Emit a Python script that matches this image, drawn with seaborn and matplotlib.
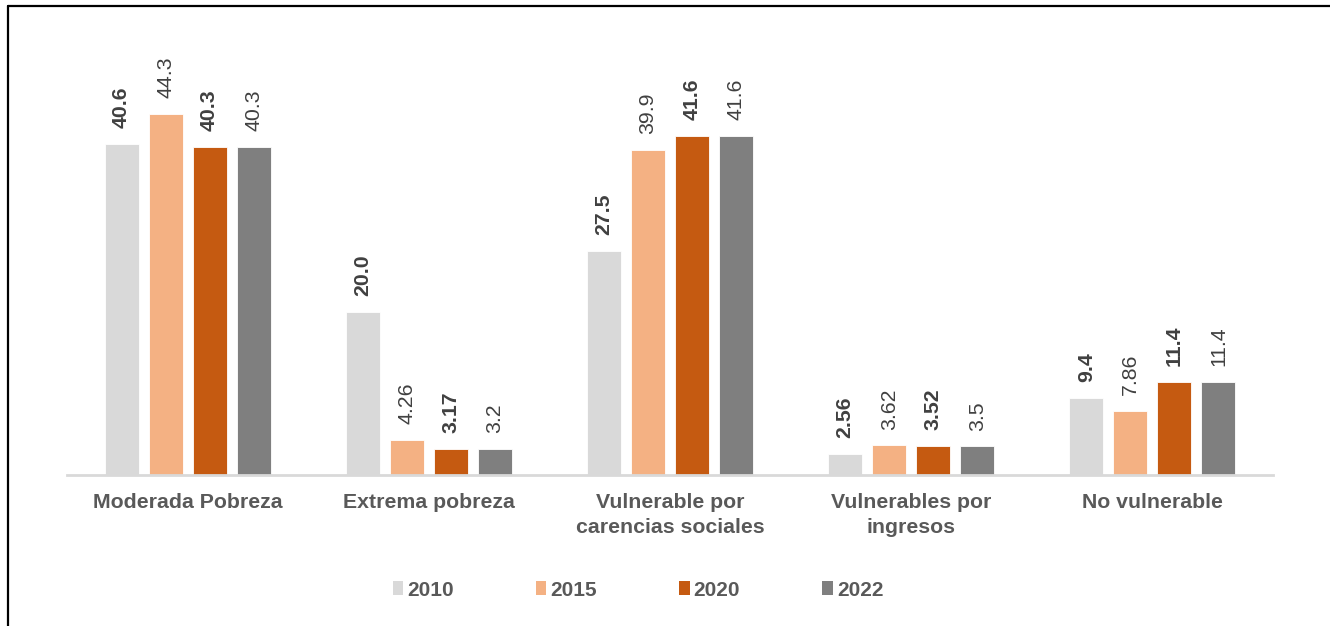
import matplotlib
matplotlib.use("Agg")
import matplotlib.pyplot as plt
import seaborn as sns
import pandas as pd
from matplotlib.lines import Line2D
from matplotlib.patches import Patch
from matplotlib import font_manager

categories = ["Moderada Pobreza", "Extrema pobreza", "Vulnerable por\ncarencias sociales",
              "Vulnerables por\ningresos", "No vulnerable"]
years = ["2010", "2015", "2020", "2022"]
v2010 = [40.6, 20.0, 27.5, 2.56, 9.4]
v2015 = [44.3, 4.26, 39.9, 3.62, 7.86]
v2020 = [40.3, 3.17, 41.6, 3.52, 11.4]
v2022 = [40.3, 3.2, 41.6, 3.5, 11.4]
colors = ["#D9D9D9", "#F4B183", "#C55A11", "#7F7F7F"]
label_weights = ["bold", "normal", "bold", "normal"]

series = [v2010, v2015, v2020, v2022]
rows = []
for y, vals in zip(years, series):
    for c, v in zip(categories, vals):
        rows.append({"cat": c, "year": y, "val": v})
df = pd.DataFrame(rows)

sns.set_theme(style="white")
plt.rcParams["font.family"] = ["Liberation Sans", "DejaVu Sans"]

fig = plt.figure(figsize=(13.3, 6.26), dpi=100)
ax = fig.add_axes([67/1330, 1 - 475/626, 1206/1330, (475 - 67.5)/626])

sns.barplot(data=df, x="cat", y="val", hue="year", order=categories, hue_order=years,
            palette=colors, saturation=1, width=0.73, gap=0.23, ax=ax, legend=False,
            edgecolor="white", linewidth=0.6)

ax.set_xlim(-0.5, 4.5)
ax.set_ylim(0, 50)
ax.set_xlabel("")
ax.set_ylabel("")
ax.set_yticks([])
for s in ["top", "right", "left"]:
    ax.spines[s].set_visible(False)
ax.spines["bottom"].set_color("#D9D9D9")
ax.spines["bottom"].set_linewidth(2)
ax.tick_params(axis="x", length=0, pad=13)
for lab in ax.get_xticklabels():
    lab.set_fontsize(15.3)
    lab.set_fontweight("bold")
    lab.set_color("#595959")
    lab.set_linespacing(1.38)

for cont, vals, w in zip(ax.containers, series, label_weights):
    ax.bar_label(cont, labels=[str(v) for v in vals], padding=11.5, rotation=90,
                 fontsize=15.3, fontweight=w, color="#404040")

# legend (text in the reference looks condensed)
names = {f.name for f in font_manager.fontManager.ttflist}
if "Liberation Sans Narrow" in names:
    lfam, lsize = "Liberation Sans Narrow", 18.0
else:
    lfam, lsize = "Liberation Sans", 15.0
em = lsize * 100 / 72
txt_w = 4 * 0.556 * em * (0.82 if "Narrow" in lfam else 1.0)
hl, hh, tp = 10.4 / em, 13.5 / em, 4.0 / em
colsp = (143 - 10.4 - 4.0 - txt_w) / em

handles = [Patch(facecolor=c, edgecolor="none") for c in colors]
leg = fig.legend(handles, years, loc="center", bbox_to_anchor=(638/1330, 1 - 590/626),
                 ncol=4, frameon=False, columnspacing=colsp, handlelength=hl,
                 handleheight=hh, handletextpad=tp,
                 prop={"family": lfam, "weight": "bold", "size": lsize})
for t in leg.get_texts():
    t.set_color("#595959")

# outer frame lines (left and top)
fig.add_artist(Line2D([7.5/1330, 7.5/1330], [0, 1 - 5.5/626], transform=fig.transFigure,
                      color="black", linewidth=1.6))
fig.add_artist(Line2D([7.5/1330, 1], [1 - 5.5/626, 1 - 5.5/626], transform=fig.transFigure,
                      color="black", linewidth=1.6))

fig.savefig("out.png", dpi=100)
